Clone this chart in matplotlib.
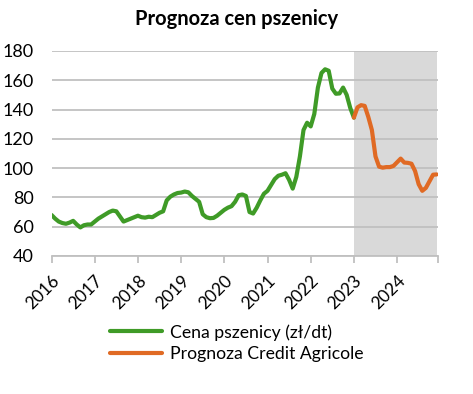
import numpy as np
import matplotlib
matplotlib.use("Agg")
import matplotlib.pyplot as plt

plt.rcParams['font.family'] = ['Lato', 'DejaVu Sans']

# monthly data, Jan 2016 .. Jan 2023 (historical price)
cena = [68, 65.5, 63.5, 62.5, 62, 62.8, 64, 61.5, 59.5, 61, 61.5, 61.5,
        63.5, 65.5, 67, 68.5, 70, 71, 70.5, 67, 63.5, 64.5, 65.5, 66.5,
        67.5, 66.5, 66.2, 66.8, 66.5, 68, 69.5, 70.5, 78, 80.5, 82, 83,
        83.3, 84, 83.5, 81, 79, 77, 68.5, 66.5, 65.8, 66, 67.5, 69.5,
        71.5, 73, 74, 77, 81.5, 82, 81, 70, 69, 73, 78, 82.5,
        84.5, 88.5, 92.5, 94.8, 95.5, 96.5, 92, 86, 94, 108, 126, 131,
        128.5, 137, 155, 165, 167.5, 166.5, 154.3, 150.8, 151, 155, 150, 141,
        134.5]
# Jan 2023 .. Dec 2024 (forecast)
prognoza = [134.5, 141.5, 143, 142.5, 135, 126, 108, 101, 100.3, 100.7, 100.7, 101.5,
            104, 106.5, 103.8, 103.6, 103, 98, 89, 84.5, 86.5, 91, 95.5, 95.7]
lata = ['2016', '2017', '2018', '2019', '2020', '2021', '2022', '2023', '2024']

x_cena = np.arange(len(cena))
x_prog = np.arange(len(prognoza)) + len(cena) - 1
x_end = x_prog[-1]

fig = plt.figure(figsize=(4.73, 3.94), dpi=100)
ax = fig.add_axes([0.109, 0.3503, 0.818, 0.5203])

# forecast period shading
ax.axvspan(x_prog[0], x_end, ymin=0, ymax=1, color='#d9d9d9', lw=0, zorder=0)

ax.plot(x_cena, cena, color='#3f9b27', lw=3.0, solid_joinstyle='round',
        solid_capstyle='round', label='Cena pszenicy (zł/dt)', zorder=3)
ax.plot(x_prog, prognoza, color='#e06a24', lw=3.0, solid_joinstyle='round',
        solid_capstyle='round', label='Prognoza Credit Agricole', zorder=3)

ax.set_xlim(0, x_end + 0.5)
ax.set_ylim(40, 180)
ax.set_yticks(range(40, 181, 20))
ax.grid(axis='y', color='#c0c0c0', lw=1.3, zorder=1)
ax.set_axisbelow(True)

ticks = list(range(0, 12 * len(lata), 12)) + [x_end + 0.5]
ax.set_xticks(ticks)
ax.set_xticklabels(lata + [''], rotation=45, ha='right', va='top',
                   rotation_mode='anchor', fontsize=12.5)
ax.tick_params(axis='x', length=5, width=1.3, color='#c0c0c0', pad=7)
ax.tick_params(axis='y', length=0, labelsize=13, pad=13)

for s in ['top', 'right', 'left']:
    ax.spines[s].set_visible(False)
ax.spines['bottom'].set_color('#c0c0c0')
ax.spines['bottom'].set_linewidth(1.3)

fig.suptitle('Prognoza cen pszenicy', fontsize=14.5, fontweight='bold',
             x=0.5, y=0.978)

fig.legend(loc='upper left', bbox_to_anchor=(0.213, 0.2), frameon=False,
           fontsize=12.7, handlelength=3.0, handletextpad=0.4, labelspacing=0.3,
           borderpad=0)

fig.savefig('out.png', dpi=100)
